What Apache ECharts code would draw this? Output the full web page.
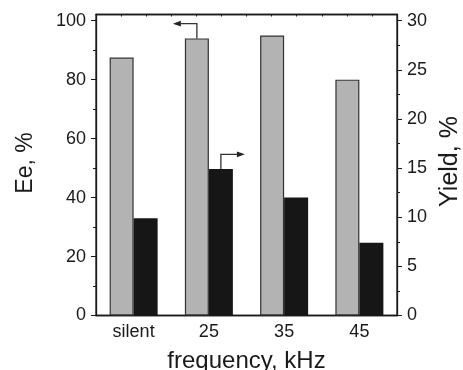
<!DOCTYPE html>
<html>
<head>
<meta charset="utf-8">
<script src="https://cdn.jsdelivr.net/npm/echarts@6/dist/echarts.min.js"></script>
<style>
  html, body { margin: 0; padding: 0; background: #fff; }
  #chart { width: 463px; height: 370px; }
</style>
</head>
<body>
<div id="chart"></div>
<script>
const categories = ["silent", "25", "35", "45"];
const eeValues = [87.5, 94, 95, 80];
const yieldValues = [9.9, 14.9, 12.0, 7.4];

const eeTicks = [0, 20, 40, 60, 80, 100];
const eeMinorTicks = [10, 30, 50, 70, 90];
const yieldTicks = [0, 5, 10, 15, 20, 25, 30];
const yieldMinorTicks = [2.5, 7.5, 12.5, 17.5, 22.5, 27.5];
const topSlots = ["", "", "", "", "", "", "", "", "", "", "", ""];

// arrows pointing to the axis each series belongs to: [category index, from, to]
const eeArrow = [[1, 94, 99]];
const yieldArrow = [[1, 14.9, 16.4]];

const EE_MAX = 102.1;
const YIELD_MAX = EE_MAX * 0.3;
const BAR_W = 24;
const FONT = "Liberation Sans, Arial, sans-serif";
const INK = "#1a1a1a";

const chart = echarts.init(document.getElementById("chart"));

function arrowRenderer(side) {
  return function (params, api) {
    const p0 = api.coord([api.value(0), api.value(1)]);
    const p1 = api.coord([api.value(0), api.value(2)]);
    const x = p0[0] + side * BAR_W / 2;
    const tipX = x + side * 24;
    const headX = tipX - side * 8;
    return {
      type: "group",
      children: [
        {
          type: "polyline",
          shape: { points: [[x, p0[1]], [x, p1[1]], [headX, p1[1]]] },
          style: { stroke: "#333", lineWidth: 1.3, fill: null },
        },
        {
          type: "polygon",
          shape: { points: [[tipX, p1[1]], [headX, p1[1] - 2.8], [headX, p1[1] + 2.8]] },
          style: { fill: "#222" },
        },
      ],
    };
  };
}

const option = {
  animation: false,
  grid: {
    left: 96, right: 66, top: 14.5, bottom: 54.5,
    containLabel: false, outerBoundsMode: "none",
    show: true, borderColor: INK, borderWidth: 1.3,
  },
  xAxis: [
    {
      type: "category",
      data: categories,
      position: "bottom",
      axisLine: { onZero: false, lineStyle: { color: INK, width: 1.3 } },
      axisTick: { alignWithLabel: true, length: 4, lineStyle: { color: INK } },
      axisLabel: { color: INK, fontSize: 18, fontFamily: FONT, margin: 8 },
      name: "frequency, kHz",
      nameLocation: "middle",
      nameGap: 34,
      nameTextStyle: { color: INK, fontSize: 24, fontFamily: FONT },
    },
    {
      type: "category",
      data: topSlots,
      position: "top",
      axisLine: { show: true, onZero: false, lineStyle: { color: INK, width: 1.3 } },
      axisTick: { show: true, inside: true, length: 2, interval: 0, lineStyle: { color: INK } },
      axisLabel: { show: false },
      splitLine: { show: false },
    },
  ],
  yAxis: [
    {
      type: "value",
      position: "left",
      min: 0,
      max: EE_MAX,
      axisLine: { show: true, onZero: false, lineStyle: { color: INK, width: 1.3 } },
      axisTick: { show: true, length: 5, customValues: eeTicks, lineStyle: { color: INK } },
      axisLabel: { color: INK, fontSize: 18, fontFamily: FONT, margin: 10, customValues: eeTicks },
      splitLine: { show: false },
      name: "Ee, %",
      nameLocation: "middle",
      nameRotate: 90,
      nameGap: 59,
      nameTextStyle: { color: INK, fontSize: 23, fontFamily: FONT, padding: [0, 0, 0, 4] },
    },
    {
      type: "value",
      position: "right",
      min: 0,
      max: YIELD_MAX,
      axisLine: { show: true, onZero: false, lineStyle: { color: INK, width: 1.3 } },
      axisTick: { show: true, length: 5, customValues: yieldTicks, lineStyle: { color: INK } },
      axisLabel: { color: INK, fontSize: 18, fontFamily: FONT, margin: 10, customValues: yieldTicks },
      splitLine: { show: false },
      name: "Yield, %",
      nameLocation: "middle",
      nameRotate: 90,
      nameGap: 41,
      nameTextStyle: { color: INK, fontSize: 25, fontFamily: FONT, padding: [0, 0, 0, 7] },
    },
    {
      type: "value",
      position: "left",
      min: 0,
      max: EE_MAX,
      axisLine: { show: false, onZero: false },
      axisTick: { show: true, length: 3, customValues: eeMinorTicks, lineStyle: { color: INK } },
      axisLabel: { show: false },
      splitLine: { show: false },
    },
    {
      type: "value",
      position: "right",
      min: 0,
      max: YIELD_MAX,
      axisLine: { show: false, onZero: false },
      axisTick: { show: true, length: 3, customValues: yieldMinorTicks, lineStyle: { color: INK } },
      axisLabel: { show: false },
      splitLine: { show: false },
    },
  ],
  series: [
    {
      name: "Ee",
      type: "bar",
      yAxisIndex: 0,
      data: eeValues,
      barWidth: BAR_W,
      barGap: "0%",
      itemStyle: { color: "#b3b3b3", borderColor: "#333", borderWidth: 1.2 },
    },
    {
      name: "Yield",
      type: "bar",
      yAxisIndex: 1,
      data: yieldValues,
      barWidth: BAR_W,
      barGap: "0%",
      itemStyle: { color: "#161616" },
    },
    {
      type: "custom",
      yAxisIndex: 0,
      data: eeArrow,
      renderItem: arrowRenderer(-1),
      silent: true,
      z: 5,
    },
    {
      type: "custom",
      yAxisIndex: 1,
      data: yieldArrow,
      renderItem: arrowRenderer(1),
      silent: true,
      z: 5,
    },
  ],
};

chart.setOption(option);
</script>
</body>
</html>
